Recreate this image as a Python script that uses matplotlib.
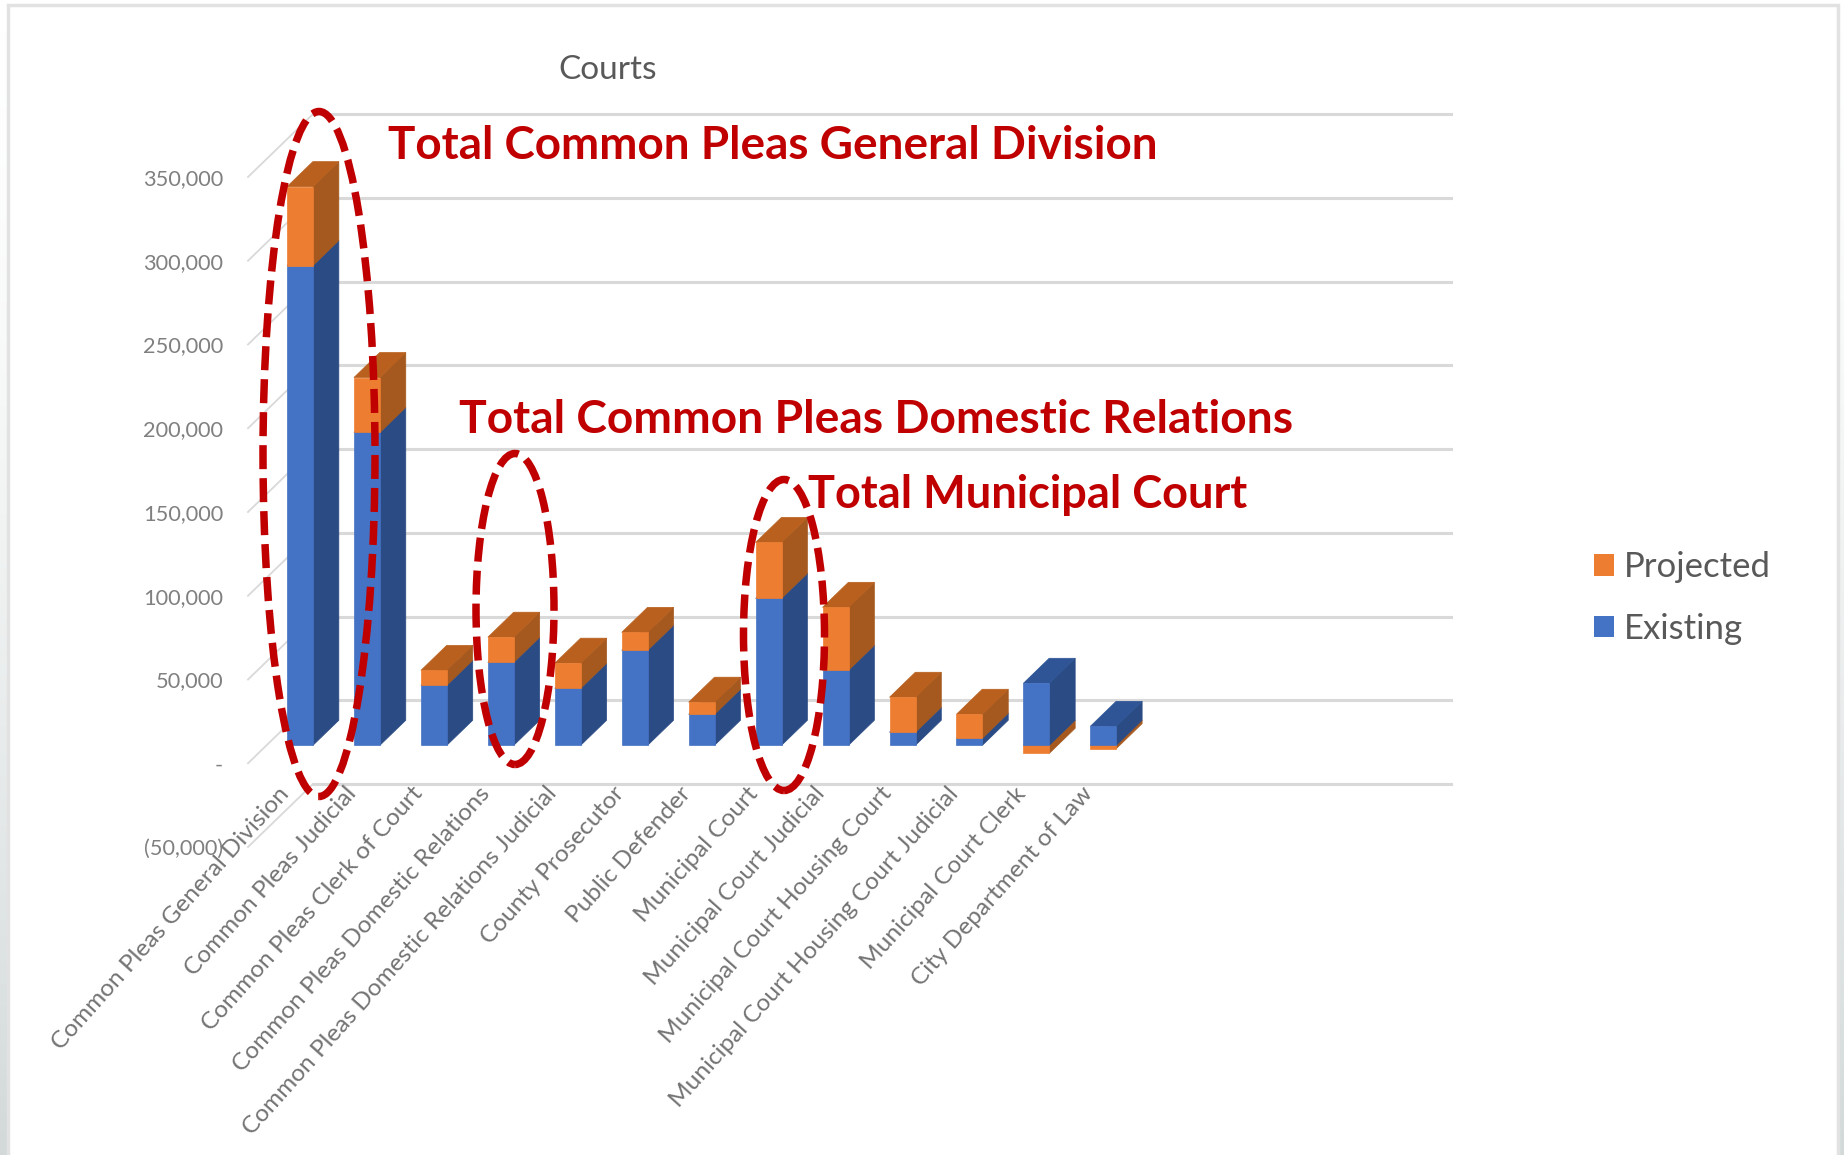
import numpy as np
import matplotlib
matplotlib.use("Agg")
import matplotlib.pyplot as plt
from matplotlib.colors import LinearSegmentedColormap
from matplotlib.patches import Ellipse, Patch, Polygon, Rectangle
from matplotlib.ticker import FuncFormatter
from matplotlib.transforms import ScaledTranslation

categories = ["Common Pleas General Division", "Common Pleas Judicial",
              "Common Pleas Clerk of Court", "Common Pleas Domestic Relations",
              "Common Pleas Domestic Relations Judicial", "County Prosecutor",
              "Public Defender", "Municipal Court", "Municipal Court Judicial",
              "Municipal Court Housing Court", "Municipal Court Housing Court Judicial",
              "Municipal Court Clerk", "City Department of Law"]
existing = [286400, 186750, 35800, 49500, 34000, 56700, 18500,
            87700, 44750, 7750, 4200, 37000, 11300]
projected = [47100, 32800, 8900, 15000, 15000, 10700, 7200,
             33400, 37600, 20900, 14300, -4800, -2000]
yticks = [-50000, 0, 50000, 100000, 150000, 200000, 250000, 300000, 350000]

W, H = 1844, 1155
plt.rcParams['font.family'] = ['Lato', 'DejaVu Sans']

BLUE, BLUE_SIDE, BLUE_TOP = '#4472C4', '#2B4B84', '#2F5597'
ORANGE, ORANGE_SIDE, ORANGE_TOP = '#ED7D31', '#A5591F', '#B9601E'
GRID = '#D9D9D9'
RED = '#C00000'

fig = plt.figure(figsize=(W / 100, H / 100), dpi=100, facecolor='white')

# front plane of the fake 3d box, everything else is offset from it
ax = fig.add_axes([248 / W, 1 - 847 / H, 1138 / W, 670 / H])
ax.set_xlim(0, 17)
ax.set_ylim(-50000, 350000)
ax.patch.set_alpha(0)
for s in ax.spines.values():
    s.set_visible(False)

px_x = 17 / 1138      # one pixel in x units
px_y = 400000 / 670   # one pixel in value units
DX = 65 * px_x
DY = 63 * px_y
D1, D2 = 18 / 63, 43 / 63   # bar front and back, share of the depth
BAR_W = 26 * px_x


def proj(x, v, d):
    return x + DX * d, v + DY * d


def box(x, v0, v1, front, side, top):
    x1 = x + BAR_W
    ax.add_patch(Polygon([proj(x1, v0, D1), proj(x1, v0, D2), proj(x1, v1, D2), proj(x1, v1, D1)],
                         fc=side, ec=side, lw=0.5, zorder=3, clip_on=False))
    ax.add_patch(Polygon([proj(x, v1, D1), proj(x1, v1, D1), proj(x1, v1, D2), proj(x, v1, D2)],
                         fc=top, ec=top, lw=0.5, zorder=3, clip_on=False))
    ax.add_patch(Polygon([proj(x, v0, D1), proj(x1, v0, D1), proj(x1, v1, D1), proj(x, v1, D1)],
                         fc=front, ec=front, lw=0.5, zorder=4, clip_on=False))


# walls
for v in yticks:
    ax.plot([0, DX], [v, v + DY], color=GRID, lw=1.3, clip_on=False, zorder=1)
    ax.plot([DX, 17 + DX], [v + DY, v + DY], color=GRID, lw=2.2, clip_on=False, zorder=1)

xs = np.arange(len(categories)) + 0.5
for x, e, p in zip(xs, existing, projected):
    left = x - BAR_W / 2
    if p < 0:
        box(left, p, 0, ORANGE, ORANGE_SIDE, ORANGE_TOP)
        box(left, 0, e, BLUE, BLUE_SIDE, BLUE_TOP)
    else:
        box(left, 0, e, BLUE, BLUE_SIDE, BLUE_TOP)
        box(left, e, e + p, ORANGE, ORANGE_SIDE, ORANGE_TOP)


def money(v, pos):
    if v == 0:
        return '-'
    if v < 0:
        return '({:,.0f})'.format(-v)
    return '{:,.0f}'.format(v)


ax.set_yticks(yticks)
ax.yaxis.set_major_formatter(FuncFormatter(money))
ax.tick_params(axis='y', length=0, pad=18, labelsize=15.7, labelcolor='#808080')
ax.set_xticks(xs)
ax.set_xticklabels(categories, rotation=48.2, ha='right', va='center', rotation_mode='anchor',
                   fontsize=17.6, color='#737373')
ax.tick_params(axis='x', length=0, pad=0)
shift = ScaledTranslation(4 / 100, 57 / 100, fig.dpi_scale_trans)
for lab in ax.get_xticklabels():
    lab.set_transform(lab.get_transform() + shift)

fig.text(608 / W, 1 - 70 / H, 'Courts', ha='center', va='center', fontsize=24, color='#595959')

fig.legend(handles=[Patch(fc=ORANGE, label='Projected'), Patch(fc=BLUE, label='Existing')],
           loc='center left', bbox_to_anchor=(1594 / W, 1 - 598 / H), frameon=False,
           fontsize=25, labelcolor='#595959', handlelength=0.58, handleheight=0.58,
           handletextpad=0.27, labelspacing=0.84, borderpad=0, borderaxespad=0)

# hand drawn callouts on top of the chart
for cx, cy, w, h in [(319, 454, 112, 685), (515, 609, 78, 311), (784, 635, 81, 311)]:
    fig.add_artist(Ellipse((cx / W, 1 - cy / H), w / W, h / H, transform=fig.transFigure,
                           fill=False, ec=RED, lw=5.4, ls=(0, (3.2, 1.2)), capstyle='butt', zorder=10))

for tx, ty, s, size in [(388, 146, 'Total Common Pleas General Division', 33),
                        (459, 420, 'Total Common Pleas Domestic Relations', 33.2),
                        (808, 495, 'Total Municipal Court', 32.5)]:
    fig.text(tx / W, 1 - ty / H, s, ha='left', va='center', fontsize=size, fontweight='bold',
             color=RED, zorder=11)

# slide edge: thin frame, grey strips fading in down both sides
fig.add_artist(Rectangle((8 / W, -0.01), (1838 - 8) / W, 1.006, transform=fig.transFigure,
                         fill=False, ec='#E2E2E2', lw=2.5, zorder=0))
fade = LinearSegmentedColormap.from_list('fade', ['#FFFFFF', '#D3D9D9'])
for x0, x1 in [(0, 7), (1838, 1844)]:
    strip = fig.add_axes([x0 / W, 0, (x1 - x0) / W, 1], zorder=-1)
    strip.imshow(np.linspace(0, 1, 256).reshape(-1, 1) ** 1.5, cmap=fade, aspect='auto')
    strip.axis('off')

fig.savefig('out.png', dpi=100, facecolor='white')
